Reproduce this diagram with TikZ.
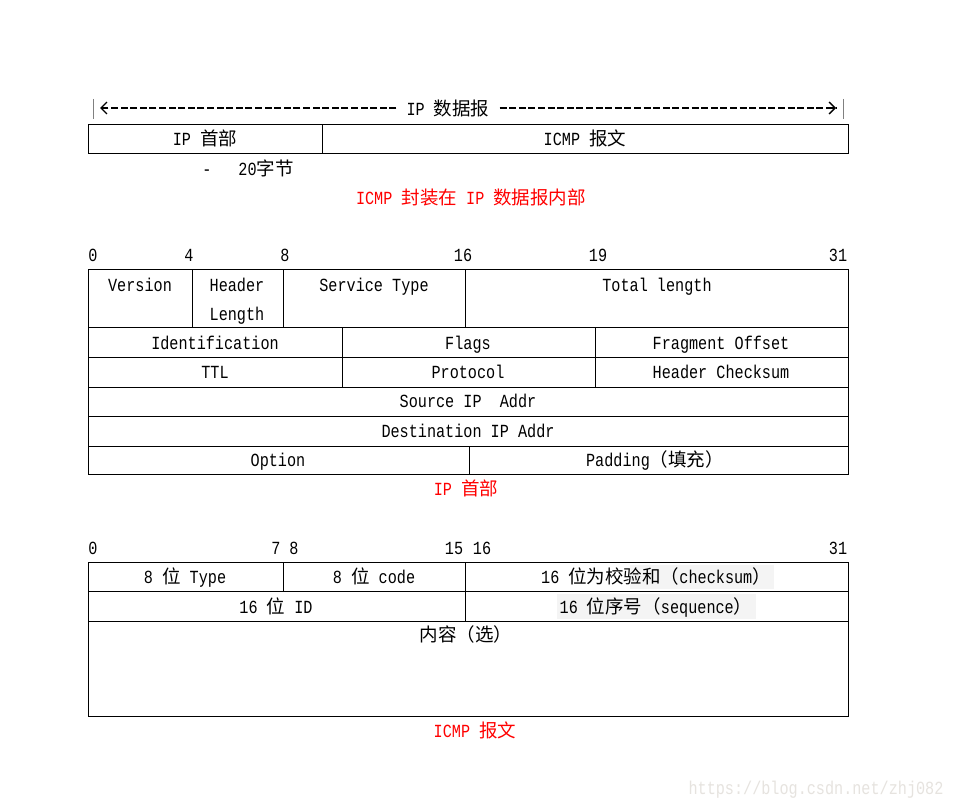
\documentclass[tikz,border=0pt]{standalone}
\usepackage{fontspec}
\setmainfont{Liberation Mono}[FakeStretch=0.82]
\newfontfamily\cjkf{Noto Sans CJK SC}
\usetikzlibrary{arrows.meta}
\newcommand\zh[1]{{\cjkf\fontsize{18.5}{18.5}\selectfont #1}}
\definecolor{wmgray}{HTML}{E6E3DF}
\definecolor{hlgray}{HTML}{F4F4F4}
\begin{document}
\begin{tikzpicture}[x=1pt,y=-1pt,
  every node/.style={inner sep=0pt, text height=15pt, text depth=2pt, font=\fontsize{18.5}{18.5}\selectfont},
  cell/.style={draw=black, line width=1pt},
  redtxt/.style={text=red},
  bar/.style={draw=gray, line width=0.7pt},
  dashline/.style={draw=black, line width=1.2pt, dash pattern=on 7pt off 2.6pt},
  tip/.style={-{Straight Barb[length=6pt,width=12pt,line width=1.3pt]}},
  hl/.style={fill=hlgray, draw=none}]
\path[use as bounding box, fill=white] (0,0) rectangle (967,808);

% ---------- top: IP datagram ----------
\coordinate (lb1) at (93,99);  \coordinate (lb2) at (93,119);
\coordinate (rb1) at (843,99); \coordinate (rb2) at (843,119);
\draw[bar] (lb1) -- (lb2);
\draw[bar] (rb1) -- (rb2);
\node (dg) at (448,109) {IP \zh{数据报}};
\coordinate (al) at (100,108);
\coordinate (ar) at (836,108);
\draw[dashline] ([xshift=-10pt]dg.west |- al) -- (al);
\draw[dashline] ([xshift=10pt]dg.east |- ar) -- (ar);
\draw[tip, line width=1.2pt] ([xshift=8pt]al) -- (al);
\draw[tip, line width=1.2pt] ([xshift=-8pt]ar) -- (ar);

\draw[cell] (88,124) rectangle (322,153);
\draw[cell] (322,124) rectangle (848,153);
\node (iph) at (205,139) {IP \zh{首部}};
\node (icmpmsg) at (585,139) {ICMP \zh{报文}};
\node (dash1) at (207,169) {-};
\node (bytes) at (266,169) {20\zh{字节}};
\node[redtxt] (cap1) at (471,198) {ICMP \zh{封装在} IP \zh{数据报内部}};

% ---------- middle: IP header ----------
\node (n0) at (93,255) {0};
\node (n4) at (189,255) {4};
\node (n8) at (285,255) {8};
\node (n16) at (463,255) {16};
\node (n19) at (598,255) {19};
\node (n31) at (838,255) {31};

\draw[cell] (88,269) rectangle (192,327);
\draw[cell] (192,269) rectangle (283,327);
\draw[cell] (283,269) rectangle (465,327);
\draw[cell] (465,269) rectangle (848,327);
\node (ver) at (140,285) {Version};
\node (hl1) at (237,285) {Header};
\node (hl2) at (237,314) {Length};
\node (st) at (374,285) {Service Type};
\node (tl) at (657,285) {Total length};

\draw[cell] (88,327) rectangle (342,357);
\draw[cell] (342,327) rectangle (595,357);
\draw[cell] (595,327) rectangle (848,357);
\node (idn) at (215,343) {Identification};
\node (flg) at (468,343) {Flags};
\node (fo) at (721,343) {Fragment Offset};

\draw[cell] (88,357) rectangle (342,387);
\draw[cell] (342,357) rectangle (595,387);
\draw[cell] (595,357) rectangle (848,387);
\node (ttl) at (215,372) {TTL};
\node (prot) at (468,372) {Protocol};
\node (hcs) at (721,372) {Header Checksum};

\draw[cell] (88,387) rectangle (848,416);
\node (src) at (468,401) {Source IP\ \ Addr};
\draw[cell] (88,416) rectangle (848,446);
\node (dst) at (468,431) {Destination IP Addr};

\draw[cell] (88,446) rectangle (469,474);
\draw[cell] (469,446) rectangle (848,474);
\node (opt) at (278,460) {Option};
\node (pad) at (655,460) {Padding\zh{（填充）}};
\node[redtxt] (cap2) at (466,489) {IP \zh{首部}};

% ---------- bottom: ICMP message ----------
\node (m0) at (93,548) {0};
\node (m7) at (276,548) {7};
\node (m8) at (294,548) {8};
\node (m15) at (454,548) {15};
\node (m16) at (482,548) {16};
\node (m31) at (838,548) {31};

\fill[hl] (630,565) rectangle (774,589);
\fill[hl] (557,594) rectangle (756,619);

\draw[cell] (88,562) rectangle (283,591);
\draw[cell] (283,562) rectangle (465,591);
\draw[cell] (465,562) rectangle (848,591);
\node (ty) at (185,577) {8 \zh{位} Type};
\node (cd) at (374,577) {8 \zh{位} code};
\node (cks) at (656,577) {16 \zh{位为校验和（}checksum\zh{）}};

\draw[cell] (88,591) rectangle (465,621);
\draw[cell] (465,591) rectangle (848,621);
\node (idf) at (276,607) {16 \zh{位} ID};
\node (seq) at (656,607) {16 \zh{位序号（}sequence\zh{）}};

\draw[cell] (88,621) rectangle (848,716);
\node (cont) at (466,635) {\zh{内容（选）}};
\node[redtxt] (cap3) at (475,731) {ICMP \zh{报文}};

\node[text=wmgray] (wm) at (816,788) {https://blog.csdn.net/zhj082};
\end{tikzpicture}
\end{document}
